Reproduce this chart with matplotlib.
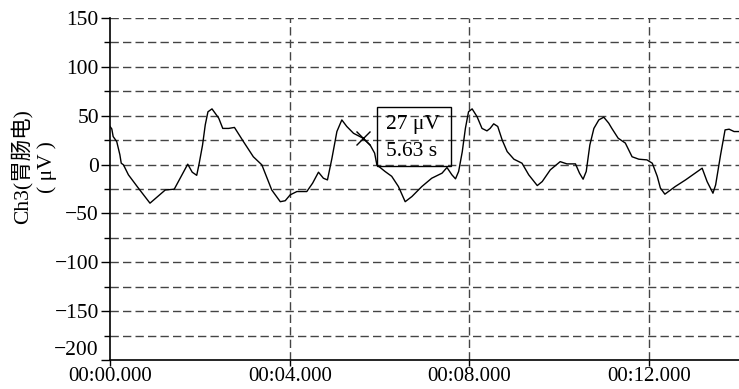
import matplotlib
matplotlib.use("Agg")
import matplotlib.pyplot as plt
from matplotlib.patches import Rectangle
from matplotlib.ticker import FixedLocator

plt.rcParams['lines.scale_dashes'] = False

# ---- data ----
time_s = [0.00, 0.04, 0.07, 0.15, 0.22, 0.25, 0.30, 0.41, 0.63, 0.89, 1.23, 1.43,
          1.73, 1.83, 1.93, 1.98, 2.06, 2.12, 2.18, 2.27, 2.42, 2.51, 2.64, 2.77,
          2.97, 3.19, 3.38, 3.60, 3.79, 3.90, 4.01, 4.16, 4.38, 4.51, 4.64, 4.75,
          4.84, 4.94, 5.05, 5.16, 5.27, 5.42, 5.56, 5.63, 5.79, 5.89, 5.94, 6.12,
          6.27, 6.42, 6.57, 6.72, 6.94, 7.16, 7.39, 7.50, 7.61, 7.69, 7.76, 7.84,
          7.91, 7.98, 8.06, 8.17, 8.28, 8.39, 8.46, 8.54, 8.63, 8.73, 8.84, 8.99,
          9.17, 9.32, 9.51, 9.62, 9.80, 10.02, 10.17, 10.36, 10.45, 10.53, 10.60,
          10.68, 10.77, 10.88, 10.99, 11.10, 11.17, 11.31, 11.47, 11.62, 11.77,
          11.95, 12.07, 12.18, 12.25, 12.35, 12.58, 12.81, 13.18, 13.29, 13.42,
          13.48, 13.59, 13.69, 13.78, 13.89, 14.00]
value_uv = [39.0, 36.5, 28.7, 23.5, 10.0, 1.4, -0.3, -10.5, -24.0, -39.5, -26.0, -25.2,
            0.4, -7.8, -11.0, 0.0, 20.0, 40.6, 54.0, 57.0, 47.5, 37.0, 37.0, 38.0,
            23.5, 8.0, -0.3, -26.0, -38.0, -37.0, -31.0, -27.6, -27.6, -19.0, -7.8, -14.0,
            -15.7, 6.5, 33.8, 45.7, 39.0, 32.0, 28.7, 27.0, 20.0, 11.7, -0.3, -7.0,
            -12.0, -22.5, -38.0, -32.7, -22.5, -14.0, -8.8, -3.0, -10.5, -14.6, -7.0, 13.0,
            37.0, 54.0, 57.0, 49.0, 37.0, 34.5, 37.0, 41.7, 39.0, 25.0, 13.3, 5.5,
            1.4, -10.5, -21.5, -17.4, -5.4, 3.0, 0.7, 0.7, -8.8, -15.0, -7.0,
            20.0, 37.0, 45.7, 48.5, 42.4, 37.0, 27.0, 22.0, 8.0, 5.5,
            4.8, 1.4, -12.0, -24.0, -30.3, -22.5, -15.7, -3.7, -17.4, -29.3,
            -20.8, 10.0, 35.5, 36.2, 33.8, 33.8]

cursor_time = 5.63
cursor_value = 27

x_tick_values = [0, 4, 8, 12]
x_tick_labels = ["00:00.000", "00:04.000", "00:08.000", "00:12.000"]
y_tick_values = [-200, -150, -100, -50, 0, 50, 100, 150]
y_minor_values = [-175, -125, -75, -25, 25, 75, 125]

serif = ['Liberation Serif', 'Noto Sans CJK SC', 'DejaVu Sans']
plt.rcParams['font.family'] = serif
FS = 15.5

fig = plt.figure(figsize=(7.39, 3.89), dpi=100)
ax = fig.add_axes([110/739, 29/389, 1 - 110/739, (360-18)/389])

ax.set_xlim(0, 14)
ax.set_ylim(-200, 150)

grid_kw = dict(color='#444444', linewidth=1.0, linestyle=(0, (6, 3)), zorder=1)
for yv in range(-175, 151, 25):
    ax.axhline(yv, **grid_kw)
for xv in x_tick_values[1:]:
    ax.axvline(xv, **grid_kw)

ax.plot(time_s, value_uv, color='black', linewidth=1.0, zorder=3)
ax.plot([cursor_time], [cursor_value], marker='x', color='black',
        markersize=10, markeredgewidth=1.0, linestyle='none', zorder=4)

# annotation box (transparent)
rect = Rectangle((5.94, -1), 1.64, 60.0, facecolor='none', edgecolor='black',
                 linewidth=1.0, zorder=5)
ax.add_patch(rect)
ax.text(6.15, 40.5, f"{cursor_value} \u03bcV", fontsize=FS, va='center', ha='left',
        zorder=6, family=serif)
ax.text(6.15, 13.5, f"{cursor_time:.2f} s", fontsize=FS, va='center', ha='left',
        zorder=6, family=serif)

for s in ['top', 'right']:
    ax.spines[s].set_visible(False)
for s in ['left', 'bottom']:
    ax.spines[s].set_linewidth(1.2)
    ax.spines[s].set_zorder(7)

ax.xaxis.set_major_locator(FixedLocator(x_tick_values))
ax.set_xticklabels(x_tick_labels)
ax.yaxis.set_major_locator(FixedLocator(y_tick_values))
ax.yaxis.set_minor_locator(FixedLocator(y_minor_values))
ax.set_yticklabels([str(v).replace('-', '\u2212') for v in y_tick_values])
ax.tick_params(axis='both', which='major', direction='out', length=6.5, width=1.0,
               labelsize=FS, colors='black', pad=1.5)
ax.tick_params(axis='x', which='major', length=4.5, pad=0.5, labelsize=15)
ax.tick_params(axis='y', which='minor', direction='out', length=4, width=1.0)

# lowest y label sits above its tick, as in the reference
ax.yaxis.get_major_ticks()[0].label1.set_verticalalignment('bottom')

fig.text(0.046, 1 - 167/389, "Ch3(胃肠电)\n( \u03bcV )", rotation=90, ha='center',
         va='center', fontsize=FS, multialignment='center', family=serif,
         linespacing=1.35)

fig.savefig('out.png', dpi=100)
